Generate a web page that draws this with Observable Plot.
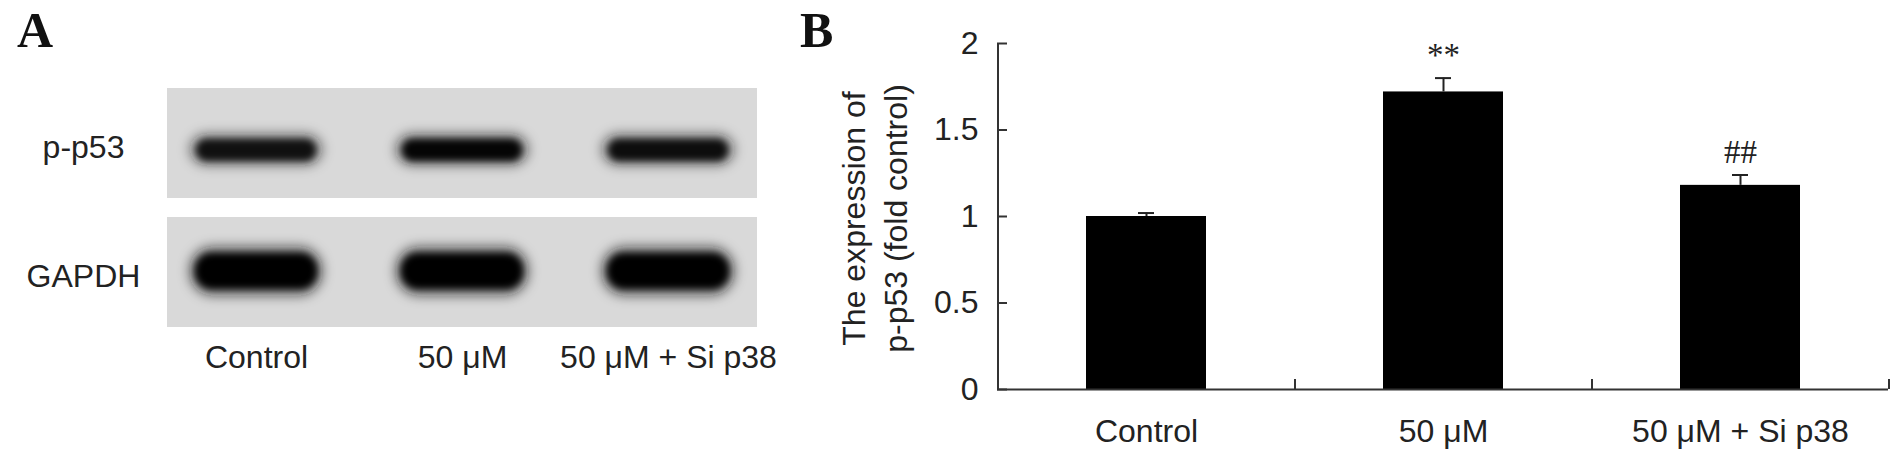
<!DOCTYPE html>
<html>
<head>
<meta charset="utf-8">
<script src="https://cdn.jsdelivr.net/npm/d3@7"></script>
<script src="https://cdn.jsdelivr.net/npm/@observablehq/plot@0.6"></script>
<style>
html, body { margin: 0; padding: 0; background: #fff; }
#root { position: relative; width: 1902px; height: 462px; overflow: hidden; background: #fff; }
.panel { position: absolute; top: 0; }
.letter { position: absolute; font-family: "Liberation Serif", "Times New Roman", serif; font-weight: bold; font-size: 50px; line-height: 50px; color: #111; }
</style>
</head>
<body>
<div id="root">
  <div id="panelA" class="panel" style="left:0"></div>
  <div id="panelB" class="panel" style="left:800px"></div>
  <div class="letter" style="left:17px; top:5px">A</div>
  <div class="letter" style="left:800px; top:5px">B</div>
</div>
<script>
// ---- data ----
const categories = ["Control", "50 μM", "50 μM + Si p38"];
const expression = [1.00, 1.72, 1.18];
const sem = [0.02, 0.08, 0.06];
const significance = ["", "**", "##"];
const yTicks = [0, 0.5, 1, 1.5, 2];
const yTickLabels = ["0", "0.5", "1", "1.5", "2"];
const yLabelLines = ["The expression of", "p-p53 (fold control)"];

const blotRows = ["p-p53", "GAPDH"];
const pp53BandIntensity = [0.88, 0.96, 0.9];
const gapdhBandIntensity = [1, 1, 1];

// ---- styles ----
const SANS = "'Liberation Sans', Arial, Helvetica, sans-serif";
const SERIF = "'Liberation Serif', 'Times New Roman', serif";
const AXIS = "#333";
const TEXT = "#222";

// ---- Panel A: western blot ----
const bands = [];
categories.forEach((lane, i) => {
  bands.push({lane, row: "p-p53", intensity: pp53BandIntensity[i]});
  bands.push({lane, row: "GAPDH", intensity: gapdhBandIntensity[i]});
});
const pp53Bands = bands.filter(d => d.row === "p-p53");
const gapdhBands = bands.filter(d => d.row === "GAPDH");

const svgA = Plot.plot({
  width: 800, height: 462,
  marginLeft: 167, marginRight: 43, marginTop: 88, marginBottom: 135,
  style: {fontFamily: SANS, fontSize: "32px", color: TEXT, background: "transparent", overflow: "visible"},
  x: {domain: categories, paddingInner: 0.3, paddingOuter: 0.082, label: null},
  y: {domain: blotRows, paddingInner: 0.15, paddingOuter: 0, axis: null, label: null},
  opacity: {type: "identity"},
  marks: [
    Plot.cell(blotRows, {y: d => d, fill: "#d9d9d9"}),
    // soft halos
    Plot.cell(pp53Bands, {
      x: "lane", y: "row", fill: "#111", fillOpacity: d => d.intensity * 0.5,
      insetLeft: 5, insetRight: 5, insetTop: 45, insetBottom: 32, rx: 18,
      ariaDescription: "blot-halo"
    }),
    Plot.cell(gapdhBands, {
      x: "lane", y: "row", fill: "#111", fillOpacity: d => d.intensity * 0.55,
      insetLeft: 5, insetRight: 5, insetTop: 29, insetBottom: 31, rx: 24,
      ariaDescription: "blot-halo"
    }),
    // dark cores
    Plot.cell(pp53Bands, {
      x: "lane", y: "row", fill: "#050505", fillOpacity: "intensity",
      insetLeft: 12, insetRight: 12, insetTop: 51, insetBottom: 37, rx: 11,
      ariaDescription: "blot-band"
    }),
    Plot.cell(gapdhBands, {
      x: "lane", y: "row", fill: "#000", fillOpacity: "intensity",
      insetLeft: 11, insetRight: 11, insetTop: 36, insetBottom: 38, rx: 17,
      ariaDescription: "blot-band"
    }),
    Plot.text(blotRows, {y: d => d, text: d => d, frameAnchor: "left", dx: -84, dy: 4, textAnchor: "middle", fill: TEXT}),
    Plot.axisX({tickSize: 0, tickPadding: 18, label: null, fill: TEXT})
  ]
});
{
  const s = d3.select(svgA);
  const defs = s.insert("defs", ":first-child");
  const f1 = defs.append("filter").attr("id", "bandBlur")
    .attr("x", "-20%").attr("y", "-80%").attr("width", "140%").attr("height", "260%");
  f1.append("feGaussianBlur").attr("stdDeviation", 3.5);
  const f2 = defs.append("filter").attr("id", "haloBlur")
    .attr("x", "-30%").attr("y", "-100%").attr("width", "160%").attr("height", "300%");
  f2.append("feGaussianBlur").attr("stdDeviation", 6);
  s.selectAll('g[aria-description="blot-band"]').attr("filter", "url(#bandBlur)");
  s.selectAll('g[aria-description="blot-halo"]').attr("filter", "url(#haloBlur)");
}
document.getElementById("panelA").appendChild(svgA);

// ---- Panel B: bar chart ----
const data = categories.map((c, i) => ({cat: c, value: expression[i], se: sem[i], sig: significance[i]}));
const WB = 1102, mlB = 197, mrB = 14;
const frameWB = WB - mlB - mrB;
const stepB = frameWB / categories.length;

const svgB = Plot.plot({
  width: WB, height: 462,
  marginLeft: mlB, marginRight: mrB, marginTop: 43, marginBottom: 73,
  style: {fontFamily: SANS, fontSize: "32px", color: TEXT, background: "transparent", overflow: "visible"},
  x: {domain: categories, paddingInner: 0.596, paddingOuter: 0.298, label: null},
  y: {domain: [0, 2], label: null},
  marks: [
    Plot.barY(data, {x: "cat", y: "value", fill: "#000"}),
    Plot.ruleX(data, {x: "cat", y1: "value", y2: d => d.value + d.se, stroke: "#222", strokeWidth: 2}),
    Plot.tickY(data, {x: "cat", y: d => d.value + d.se, insetLeft: 52, insetRight: 52, stroke: "#222", strokeWidth: 2}),
    Plot.text(data, {x: "cat", y: d => d.value + d.se, text: "sig", lineAnchor: "bottom", dy: -12, fontFamily: SERIF, fontSize: 33, fill: TEXT}),
    // axes lines
    Plot.ruleY([0], {stroke: AXIS, strokeWidth: 2}),
    Plot.ruleX([categories[0]], {x: d => d, y1: 0, y2: 2, dx: -stepB / 2, stroke: AXIS, strokeWidth: 2}),
    Plot.ruleX(categories, {x: d => d, y1: 0, y2: 0.058, dx: stepB / 2, stroke: AXIS, strokeWidth: 2}),
    Plot.tickY(yTicks, {y: d => d, insetRight: frameWB - 10, stroke: AXIS, strokeWidth: 2}),
    Plot.axisY({ticks: yTicks, tickSize: 0, tickPadding: 19, tickFormat: d => yTickLabels[yTicks.indexOf(d)], label: null, fill: TEXT}),
    Plot.axisX({tickSize: 0, tickPadding: 30, label: null, fill: TEXT}),
    Plot.text([yLabelLines.join("\n")], {text: d => d, frameAnchor: "left", dx: -125, dy: 2, rotate: -90, lineHeight: 1.31, textAnchor: "middle", lineAnchor: "middle", fill: TEXT})
  ]
});
document.getElementById("panelB").appendChild(svgB);
</script>
</body>
</html>
